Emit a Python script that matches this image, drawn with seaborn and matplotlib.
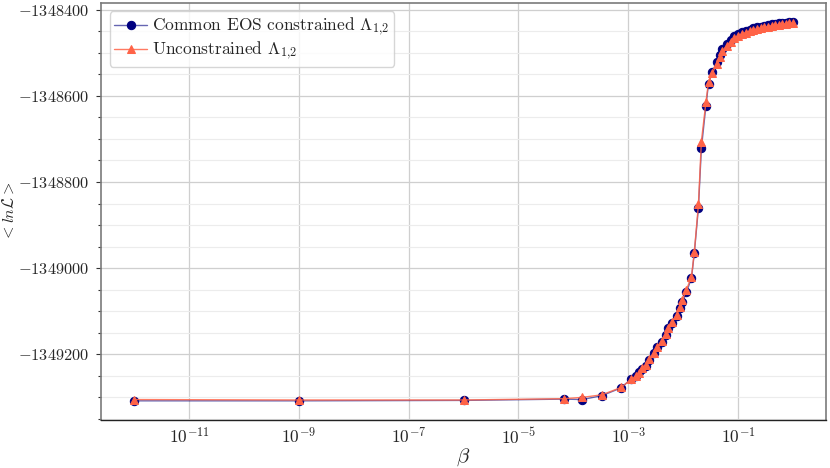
import numpy as np
import pandas as pd
import matplotlib
matplotlib.use("Agg")
import matplotlib.pyplot as plt
import seaborn as sns
from matplotlib.ticker import MultipleLocator, ScalarFormatter

####### DATA #######
beta = [1e-12, 1e-9, 1e-6, 6.7e-5, 1.45e-4, 3.3e-4, 7.4e-4, 1.13e-3, 1.4e-3, 1.6e-3,
        1.8e-3, 2.1e-3, 2.4e-3, 3.0e-3, 3.4e-3, 4.2e-3, 4.8e-3, 5.4e-3, 6.4e-3, 7.6e-3,
        8.6e-3, 9.7e-3, 1.15e-2, 1.42e-2, 1.6e-2, 1.9e-2, 2.15e-2, 2.6e-2, 2.9e-2, 3.4e-2,
        4.1e-2, 4.6e-2, 5.2e-2, 6.2e-2, 7.3e-2, 8.6e-2, 0.10, 0.12, 0.138, 0.162,
        0.19, 0.22, 0.26, 0.30, 0.35, 0.41, 0.47, 0.55, 0.63, 0.74,
        0.85, 1.0]

lnl_common = [-1349308, -1349308, -1349307, -1349304, -1349305, -1349296, -1349278, -1349257, -1349251, -1349242,
              -1349233, -1349226, -1349214, -1349198, -1349184, -1349172, -1349156, -1349140, -1349128, -1349112,
              -1349093, -1349079, -1349056, -1349023, -1348965, -1348860, -1348722, -1348623, -1348572, -1348545,
              -1348522, -1348506, -1348492, -1348480, -1348471, -1348462, -1348457, -1348452, -1348449, -1348446,
              -1348443, -1348441, -1348439, -1348437, -1348435, -1348434, -1348433, -1348432, -1348431, -1348430,
              -1348429, -1348428]

lnl_unconstrained = [-1349305, -1349306, -1349306, -1349303, -1349300, -1349294, -1349277, -1349258, -1349250, -1349244,
                     -1349232, -1349224, -1349212, -1349196, -1349182, -1349168, -1349152, -1349138, -1349124, -1349108,
                     -1349090, -1349074, -1349050, -1349020, -1348962, -1348852, -1348706, -1348615, -1348568, -1348548,
                     -1348526, -1348510, -1348496, -1348484, -1348474, -1348466, -1348461, -1348456, -1348453, -1348450,
                     -1348447, -1348445, -1348443, -1348441, -1348439, -1348437, -1348436, -1348435, -1348434, -1348433,
                     -1348432, -1348431]

labels = [r'Common EOS constrained $\Lambda_{1{,}2}$', r'Unconstrained $\Lambda_{1{,}2}$']

df = pd.DataFrame({'beta': beta, 'common': lnl_common, 'unconstrained': lnl_unconstrained})

####### STYLE #######
sns.set_style("whitegrid")
plt.rcParams['font.family'] = 'serif'
plt.rcParams['font.serif'] = ['cmr10']
plt.rcParams['mathtext.fontset'] = 'cm'
plt.rcParams['axes.formatter.use_mathtext'] = True

fig, ax = plt.subplots(figsize=(8.3, 4.68), dpi=100)
fig.subplots_adjust(left=0.122, right=0.995, top=0.994, bottom=0.103)

# line slightly faded, markers solid
sns.lineplot(data=df, x='beta', y='common', ax=ax, color=(0.0, 0.0, 0.5, 0.6),
             marker='o', markersize=6, markerfacecolor='navy', markeredgecolor='navy',
             linewidth=1.0, label=labels[0])
sns.lineplot(data=df, x='beta', y='unconstrained', ax=ax, color=(1.0, 0.39, 0.28, 0.85),
             marker='^', markersize=6, markerfacecolor='tomato', markeredgecolor='tomato',
             linewidth=1.0, label=labels[1])

ax.set_xscale('log')
ax.set_xticks([1e-11, 1e-9, 1e-7, 1e-5, 1e-3, 1e-1])
ax.xaxis.set_minor_locator(plt.NullLocator())
ax.yaxis.set_major_locator(MultipleLocator(200))
ax.yaxis.set_minor_locator(MultipleLocator(50))
fmt = ScalarFormatter(useOffset=False, useMathText=True)
fmt.set_scientific(False)
ax.yaxis.set_major_formatter(fmt)

ax.grid(which='major', color='#cfcfcf', linewidth=0.9)
ax.yaxis.grid(which='minor', color='#ececec', linewidth=0.8)

ax.tick_params(axis='y', which='major', left=True, length=3.5, width=0.8, color='.2', labelsize=11.8, pad=5)
ax.tick_params(axis='y', which='minor', left=True, length=2.5, width=0.8, color='.2')
ax.tick_params(axis='x', which='major', bottom=False, labelsize=12.5, pad=1)

for side in ['left', 'right', 'top']:
    ax.spines[side].set_color('#7a7a7a')
    ax.spines[side].set_linewidth(1.2)
ax.spines['bottom'].set_color('#222222')
ax.spines['bottom'].set_linewidth(1.0)

ax.set_xlabel(r'$\beta$', fontsize=15, labelpad=0)
ax.set_ylabel(r'${<}ln\mathcal{L}{>}$', fontsize=11.5)
ax.yaxis.set_label_coords(-0.117, 0.50)

leg = ax.legend(loc='upper left', fontsize=12.5, frameon=True, borderaxespad=0.5,
                handlelength=1.9, handletextpad=0.3, borderpad=0.25, labelspacing=0.1)
leg.get_frame().set_edgecolor('#cccccc')

plt.savefig('out.png', dpi=100)
